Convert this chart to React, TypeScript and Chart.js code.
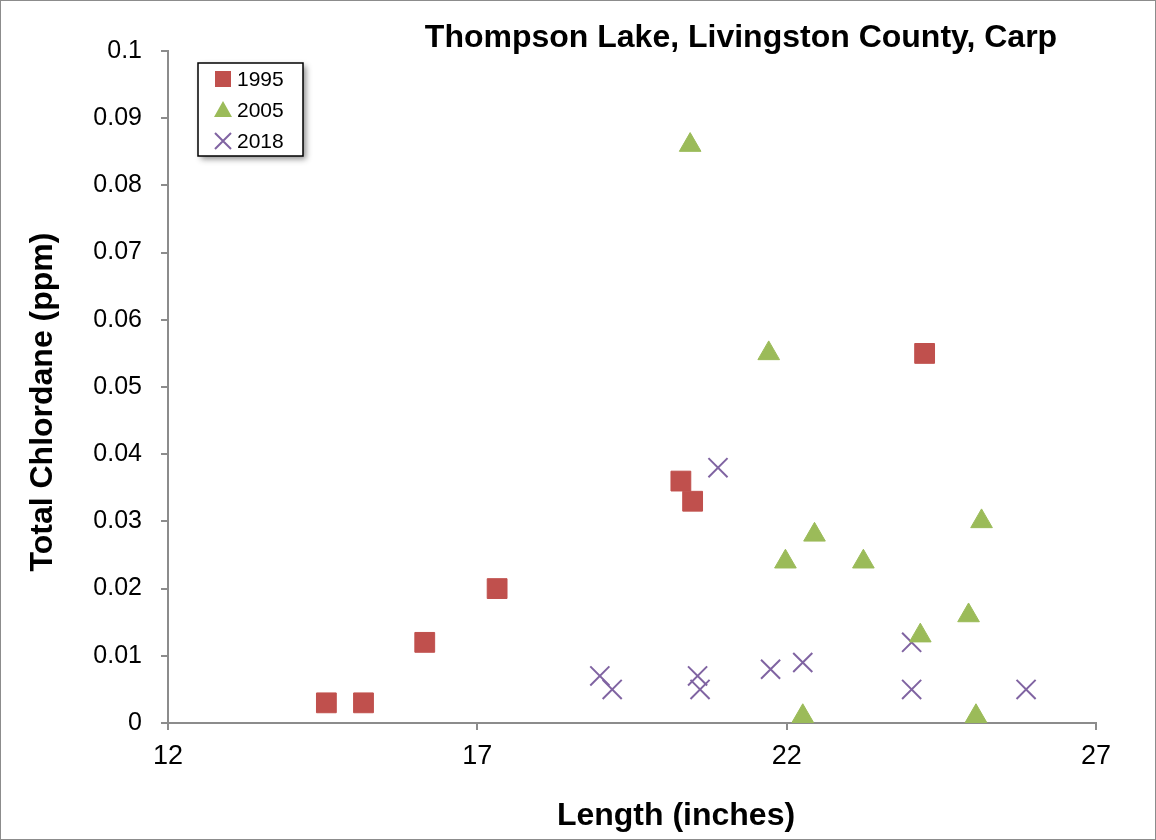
import React, { useEffect, useRef } from "react";
import { Chart, registerables } from "chart.js";

Chart.register(...registerables);

const chartTitle = "Thompson Lake, Livingston County, Carp";
const xAxisTitle = "Length (inches)";
const yAxisTitle = "Total Chlordane (ppm)";

const seriesLabels = ["1995", "2005", "2018"];
const seriesColors = ["#C0504D", "#9BBB59", "#8064A2"];

const len1995 = [14.56, 15.16, 16.15, 17.32, 20.29, 20.48, 24.23];
const chl1995 = [0.003, 0.003, 0.012, 0.02, 0.036, 0.033, 0.055];

const len2005 = [20.44, 21.71, 21.98, 22.45, 22.26, 23.24, 24.16, 24.94, 25.15, 25.06];
const chl2005 = [0.086, 0.055, 0.024, 0.028, 0.001, 0.024, 0.013, 0.016, 0.03, 0.001];

const len2018 = [18.98, 19.18, 20.89, 20.56, 20.6, 21.74, 22.26, 24.02, 24.02, 25.87];
const chl2018 = [0.007, 0.005, 0.038, 0.007, 0.005, 0.008, 0.009, 0.012, 0.005, 0.005];

const xTickLabels = ["12", "17", "22", "27"];
const yTickLabels = ["0", "0.01", "0.02", "0.03", "0.04", "0.05", "0.06", "0.07", "0.08", "0.09", "0.1"];

const toPoints = (xs: number[], ys: number[]) => xs.map((x, i) => ({ x, y: ys[i] }));

const FONT = "'Liberation Sans', Arial, sans-serif";

const textPlugin = {
  id: "customText",
  afterDraw(chart: any) {
    const ctx = chart.ctx;
    ctx.save();
    ctx.fillStyle = "#000";
    ctx.textAlign = "center";
    ctx.textBaseline = "middle";
    ctx.font = `bold 32px ${FONT}`;
    ctx.fillText(chartTitle, 740, 37);
    ctx.fillText(xAxisTitle, 675, 815);
    ctx.save();
    ctx.translate(42, 401);
    ctx.rotate(-Math.PI / 2);
    ctx.fillText(yAxisTitle, 0, 0);
    ctx.restore();

    // legend
    const lx = 197, ly = 62, lw = 105, lh = 93;
    ctx.save();
    ctx.shadowColor = "rgba(0,0,0,0.45)";
    ctx.shadowBlur = 6;
    ctx.shadowOffsetX = 3;
    ctx.shadowOffsetY = 3;
    ctx.fillStyle = "#fff";
    ctx.fillRect(lx, ly, lw, lh);
    ctx.restore();
    ctx.strokeStyle = "#000";
    ctx.lineWidth = 1.5;
    ctx.strokeRect(lx, ly, lw, lh);
    ctx.textAlign = "left";
    ctx.font = `21px ${FONT}`;
    chart.data.datasets.forEach((ds: any, i: number) => {
      const cy = ly + 16 + i * 31;
      const cx = lx + 25;
      ctx.fillStyle = ds.backgroundColor;
      ctx.strokeStyle = ds.borderColor;
      if (i === 0) {
        ctx.fillRect(cx - 8, cy - 8, 16, 16);
      } else if (i === 1) {
        ctx.beginPath();
        ctx.moveTo(cx, cy - 9);
        ctx.lineTo(cx + 9, cy + 7);
        ctx.lineTo(cx - 9, cy + 7);
        ctx.closePath();
        ctx.fill();
      } else {
        ctx.lineWidth = 2;
        ctx.beginPath();
        ctx.moveTo(cx - 8, cy - 8);
        ctx.lineTo(cx + 8, cy + 8);
        ctx.moveTo(cx + 8, cy - 8);
        ctx.lineTo(cx - 8, cy + 8);
        ctx.stroke();
      }
      ctx.fillStyle = "#000";
      ctx.fillText(ds.label, cx + 14, cy + 1);
    });
    ctx.restore();
  },
};

export default function App() {
  const ref = useRef<HTMLCanvasElement>(null);
  useEffect(() => {
    const canvas = ref.current!;
    const chart = new Chart(canvas, {
      type: "scatter",
      data: {
        datasets: [
          {
            label: seriesLabels[0],
            data: toPoints(len1995, chl1995),
            pointStyle: "rect",
            pointRadius: 14,
            pointHoverRadius: 14,
            backgroundColor: seriesColors[0],
            borderColor: seriesColors[0],
            borderWidth: 1,
          },
          {
            label: seriesLabels[1],
            data: toPoints(len2005, chl2005),
            pointStyle: "triangle",
            pointRadius: 12.5,
            pointHoverRadius: 12.5,
            backgroundColor: seriesColors[1],
            borderColor: seriesColors[1],
            borderWidth: 1,
          },
          {
            label: seriesLabels[2],
            data: toPoints(len2018, chl2018),
            pointStyle: "crossRot",
            pointRadius: 13.5,
            pointHoverRadius: 13.5,
            backgroundColor: seriesColors[2],
            borderColor: seriesColors[2],
            borderWidth: 2,
          },
        ],
      },
      options: {
        animation: false,
        responsive: false,
        maintainAspectRatio: false,
        layout: { padding: { left: 0, top: 50, right: 59, bottom: 0 } },
        plugins: {
          legend: { display: false },
          title: { display: false },
          tooltip: { enabled: false },
        },
        scales: {
          x: {
            type: "linear",
            min: 12,
            max: 27,
            afterFit: (s: any) => { s.height = 116; },
            afterBuildTicks: (s: any) => {
              s.ticks = xTickLabels.map((t) => ({ value: Number(t) }));
            },
            ticks: {
              color: "#000",
              font: { family: FONT, size: 27 },
              padding: 10,
              callback: (v: any, i: number) => xTickLabels[i],
            },
            grid: { display: true, drawOnChartArea: false, drawTicks: true, tickLength: 7, color: "#8c8c8c", lineWidth: 2 },
            border: { display: true, color: "#8c8c8c", width: 2 },
          },
          y: {
            type: "linear",
            min: 0,
            max: 0.1,
            afterFit: (s: any) => { s.width = 167; },
            afterBuildTicks: (s: any) => {
              s.ticks = yTickLabels.map((t) => ({ value: Number(t) }));
            },
            ticks: {
              color: "#000",
              font: { family: FONT, size: 25 },
              padding: 19,
              callback: (v: any, i: number) => yTickLabels[i],
            },
            grid: { display: true, drawOnChartArea: false, drawTicks: true, tickLength: 7, color: "#8c8c8c", lineWidth: 2 },
            border: { display: true, color: "#8c8c8c", width: 2 },
          },
        },
      },
      plugins: [textPlugin],
    });
    return () => chart.destroy();
  }, []);
  return (
    <div
      style={{
        position: "fixed",
        left: 0,
        top: 0,
        width: 1156,
        height: 840,
        boxSizing: "border-box",
        border: "1px solid #8c8c8c",
        background: "#fff",
      }}
    >
      <canvas ref={ref} width={1154} height={838} style={{ display: "block" }} />
    </div>
  );
}
